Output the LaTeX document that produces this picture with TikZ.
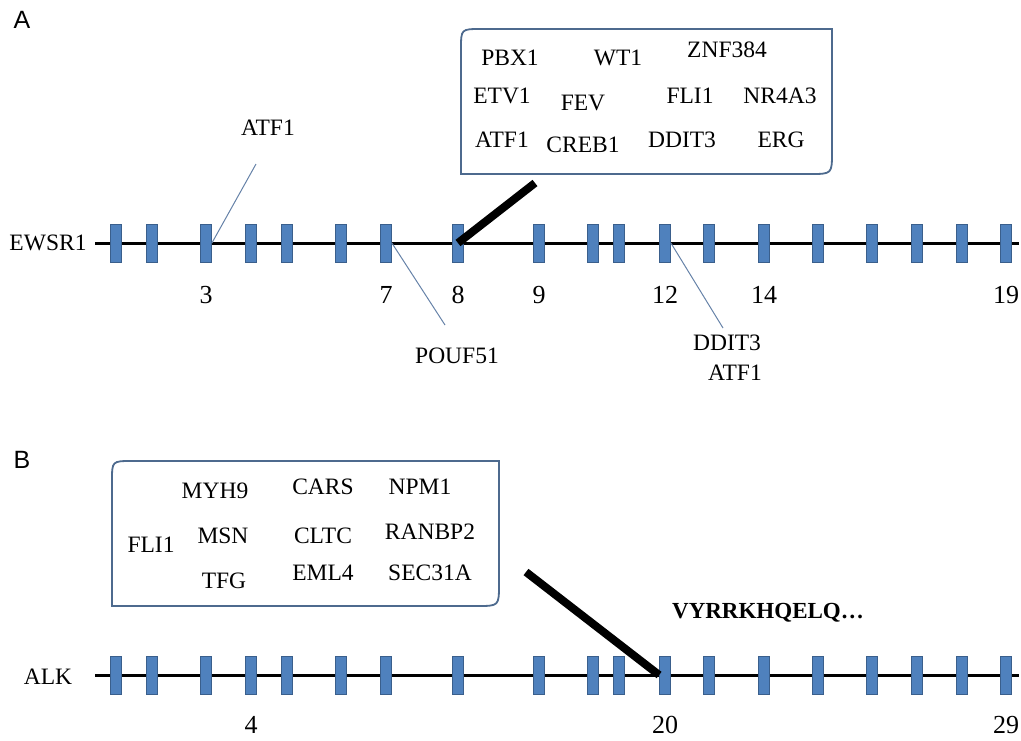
\documentclass[tikz,border=0pt]{standalone}
\usepackage{fontspec}
\setmainfont{Liberation Serif}
\newfontfamily\panelfont{Liberation Sans}
\usetikzlibrary{positioning}
\definecolor{exonfill}{HTML}{4F81BD}
\definecolor{exonedge}{HTML}{3A5F8C}
\definecolor{pinblue}{HTML}{6682A8}
\definecolor{boxblue}{HTML}{4D6A8E}

\begin{document}
\begin{tikzpicture}[x=1pt, y=-1pt, on grid,
  exon/.style={draw=exonedge, fill=exonfill, line width=0.8pt, minimum width=11pt, minimum height=38pt, inner sep=0pt},
  gene/.style={font=\fontsize{23.5}{27}\selectfont, inner sep=2pt},
  num/.style={font=\fontsize{26}{30}\selectfont},
  panel/.style={font=\panelfont\fontsize{25}{30}\selectfont},
  pin/.style={draw=pinblue, line width=1pt},
  fuse/.style={line width=8pt},
  callout/.style={draw=boxblue, line width=1.8pt},
  backbone/.style={line width=3pt}]
  \useasboundingbox (0,0) rectangle (1021,740);

  % panel A: EWSR1
  \node[panel] (pa) at (22,20) {A};
  \node[gene] (ewsr1) at (48,243) {EWSR1};
  \coordinate (astart) at (95,243);
  \coordinate (aend) at (1019,243);
  \draw[backbone] (astart) -- (aend);

  % panel B: ALK
  \node[panel] (pb) at (22,460) {B};
  \node[gene] (alk) at (48,677) {ALK};
  \coordinate (bstart) at (95,675);
  \coordinate (bend) at (1019,675);
  \draw[backbone] (bstart) -- (bend);

  % exons
  \foreach \x [count=\i] in {116,152,206,251,287,341,386,458,539,593,619,665,709,764,818,872,917,962,1006} {
    \node[exon] (a\i) at (\x,243) {};
    \node[exon] (b\i) at (\x,675) {};
  }

  % exon numbers
  \node[num, below=52pt of a3] (n3) {3};
  \node[num, below=52pt of a7] (n7) {7};
  \node[num, below=52pt of a8] (n8) {8};
  \node[num, below=52pt of a9] (n9) {9};
  \node[num, below=52pt of a12] (n12) {12};
  \node[num, below=52pt of a14] (n14) {14};
  \node[num, below=52pt of a19] (n19) {19};
  \node[num, below=50pt of b4] (m4) {4};
  \node[num, below=50pt of b12] (m20) {20};
  \node[num, below=50pt of b19] (m29) {29};

  % partners of EWSR1
  \draw[callout] (832,29) -- (481,29) .. controls (461,29) .. (461,49) -- (461,174)
    -- (810,174) .. controls (832,174) .. (832,152) -- cycle;
  \node[gene] (pbx1) at (510,58) {PBX1};
  \node[gene] (wt1) at (618,58) {WT1};
  \node[gene] (znf384) at (727,50) {ZNF384};
  \node[gene] (etv1) at (502,96) {ETV1};
  \node[gene] (fev) at (583,103) {FEV};
  \node[gene] (fli1a) at (690,96) {FLI1};
  \node[gene] (nr4a3) at (780,96) {NR4A3};
  \node[gene] (atf1b) at (502,140) {ATF1};
  \node[gene] (creb1) at (583,145) {CREB1};
  \node[gene] (ddit3b) at (682,140) {DDIT3};
  \node[gene] (erg) at (781,140) {ERG};
  \coordinate (ka) at (535,183);
  \draw[fuse] (a8.center) -- (ka);

  \coordinate (p3) at (256,164);
  \draw[pin] (a3.east) -- (p3);
  \node[gene] (atf1a) at (268,128) {ATF1};
  \coordinate (p7) at (445,325);
  \draw[pin] (a7.east) -- (p7);
  \node[gene] (pouf51) at (457,356) {POUF51};
  \coordinate (p12) at (723,328);
  \draw[pin] (a12.east) -- (p12);
  \node[gene] (ddit3a) at (727,343) {DDIT3};
  \node[gene] (atf1c) at (735,373) {ATF1};

  % partners of ALK
  \draw[callout] (499,461) -- (132,461) .. controls (112,461) .. (112,481) -- (112,606)
    -- (477,606) .. controls (499,606) .. (499,584) -- cycle;
  \node[gene] (myh9) at (215,491) {MYH9};
  \node[gene] (cars) at (323,487) {CARS};
  \node[gene] (npm1) at (420,487) {NPM1};
  \node[gene] (fli1b) at (151,545) {FLI1};
  \node[gene] (msn) at (223,536) {MSN};
  \node[gene] (cltc) at (323,536) {CLTC};
  \node[gene] (ranbp2) at (430,532) {RANBP2};
  \node[gene] (tfg) at (224,581) {TFG};
  \node[gene] (eml4) at (323,573) {EML4};
  \node[gene] (sec31a) at (430,573) {SEC31A};
  \coordinate (kb) at (526,572);
  \draw[fuse] (kb) -- (b12.west);
  \node[gene, font=\fontsize{23}{27}\selectfont\bfseries] (seq) at (768,613) {VYRRKHQELQ…};
\end{tikzpicture}
\end{document}
